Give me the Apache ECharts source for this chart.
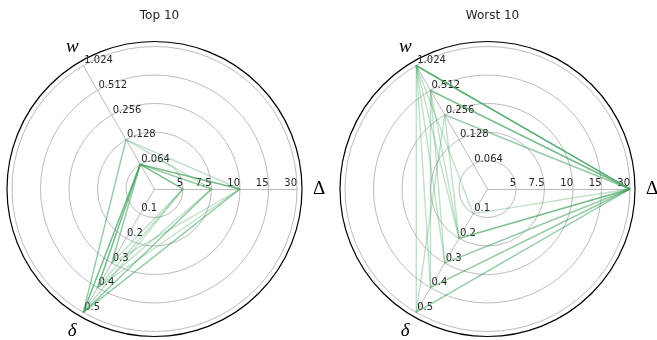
<!DOCTYPE html>
<html>
<head>
<meta charset="utf-8">
<script src="https://cdn.jsdelivr.net/npm/echarts@6/dist/echarts.min.js"></script>
<style>
  html, body { margin: 0; padding: 0; background: #fff; }
  #chart { width: 657px; height: 340px; }
</style>
</head>
<body>
<div id="chart"></div>
<script>
// Tick labels of the three radar axes (ring 1..5)
const deltaTicks = ['5', '7.5', '10', '15', '30'];
const wTicks = ['0.064', '0.128', '0.256', '0.512', '1.024'];
const dTicks = ['0.1', '0.2', '0.3', '0.4', '0.5'];

// Ten best configurations
const topDelta = [5, 5, 5, 7.5, 7.5, 7.5, 10, 10, 10, 10];
const topW     = [0.064, 0.064, 0.064, 0.064, 0.064, 0.128, 0.064, 0.064, 0.128, 0.064];
const topD     = [0.5, 0.4, 0.3, 0.5, 0.4, 0.5, 0.5, 0.4, 0.5, 0.3];

// Ten worst configurations
const worstDelta = [30, 30, 30, 30, 30, 30, 30, 30, 30, 30];
const worstW     = [1.024, 1.024, 1.024, 1.024, 1.024, 0.512, 0.512, 0.512, 0.256, 0.256];
const worstD     = [0.1, 0.2, 0.3, 0.4, 0.5, 0.2, 0.3, 0.4, 0.2, 0.5];

const titles = ['Top 10', 'Worst 10'];

// value -> ring index on an axis whose rings carry the given tick labels
function ring(value, ticks) {
  return ticks.map(Number).indexOf(value) + 1;
}

function rows(ds, ws, dl) {
  return ds.map((d, i) => ({
    value: [ring(d, deltaTicks), ring(ws[i], wTicks), ring(dl[i], dTicks)]
  }));
}

const centers = [[154.5, 189], [487.5, 189]];
const R = 142.5;
const frameR = 147.5;
const gridColor = '#b3b3b3';
const labelFont = { fontFamily: 'DejaVu Sans', fontSize: 10, color: '#262626' };

function tickFmt(ticks) {
  return function (v) {
    const k = Math.round(v);
    return k >= 1 && k <= ticks.length ? ticks[k - 1] : '';
  };
}

function radarFor(center) {
  return {
    center: center,
    radius: R,
    startAngle: 0,
    shape: 'circle',
    splitNumber: 5,
    nameGap: 22,
    axisName: {
      color: '#000',
      align: 'center',
      verticalAlign: 'middle',
      formatter: function (name) {
        return name === 'Δ' ? '{up|Δ}' : '{it|' + name + '}';
      },
      rich: {
        up: { fontFamily: 'Liberation Serif', fontSize: 19, fontStyle: 'normal', color: '#000' },
        it: { fontFamily: 'Liberation Serif', fontSize: 19, fontStyle: 'italic', color: '#000' }
      }
    },
    splitLine: { lineStyle: { color: gridColor, width: 0.9 } },
    splitArea: { show: false },
    axisLine: { lineStyle: { color: gridColor, width: 0.9 } },
    axisTick: { show: false },
    axisLabel: Object.assign({ show: true, showMinLabel: false }, labelFont),
    indicator: [
      { name: 'Δ', min: 0, max: 5,
        axisLabel: { formatter: tickFmt(deltaTicks), align: 'right', verticalAlign: 'bottom', margin: 1 } },
      { name: 'w', min: 0, max: 5,
        axisLabel: { formatter: tickFmt(wTicks), align: 'left', verticalAlign: 'bottom', margin: 0, padding: [0, 0, 0, 1] } },
      { name: 'δ', min: 0, max: 5,
        axisLabel: { formatter: tickFmt(dTicks), align: 'left', verticalAlign: 'bottom', margin: 0, padding: [0, 0, 0, 1] } }
    ]
  };
}

const chart = echarts.init(document.getElementById('chart'), null, { renderer: 'canvas' });

const lineStyle = { color: 'rgb(60,160,90)', width: 1.4, opacity: 0.33 };

chart.setOption({
  animation: false,
  backgroundColor: '#fff',
  title: titles.map((t, i) => ({
    text: t,
    left: centers[i][0],
    top: 5,
    textAlign: 'center',
    textStyle: { fontFamily: 'DejaVu Sans', fontSize: 12, fontWeight: 'normal', color: '#262626' }
  })),
  // outer black frame around each radar
  polar: centers.map(c => ({ center: c, radius: frameR })),
  angleAxis: centers.map((c, i) => ({
    polarIndex: i,
    type: 'value', min: 0, max: 360,
    axisLine: { lineStyle: { color: '#000', width: 1.2 } },
    axisTick: { show: false },
    axisLabel: { show: false },
    splitLine: { show: false }
  })),
  radiusAxis: centers.map((c, i) => ({ polarIndex: i, show: false, min: 0, max: 1 })),
  radar: centers.map(radarFor),
  series: [
    {
      type: 'radar', radarIndex: 0, symbol: 'none', silent: true,
      lineStyle: lineStyle,
      data: rows(topDelta, topW, topD)
    },
    {
      type: 'radar', radarIndex: 1, symbol: 'none', silent: true,
      lineStyle: lineStyle,
      data: rows(worstDelta, worstW, worstD)
    }
  ]
});
</script>
</body>
</html>
